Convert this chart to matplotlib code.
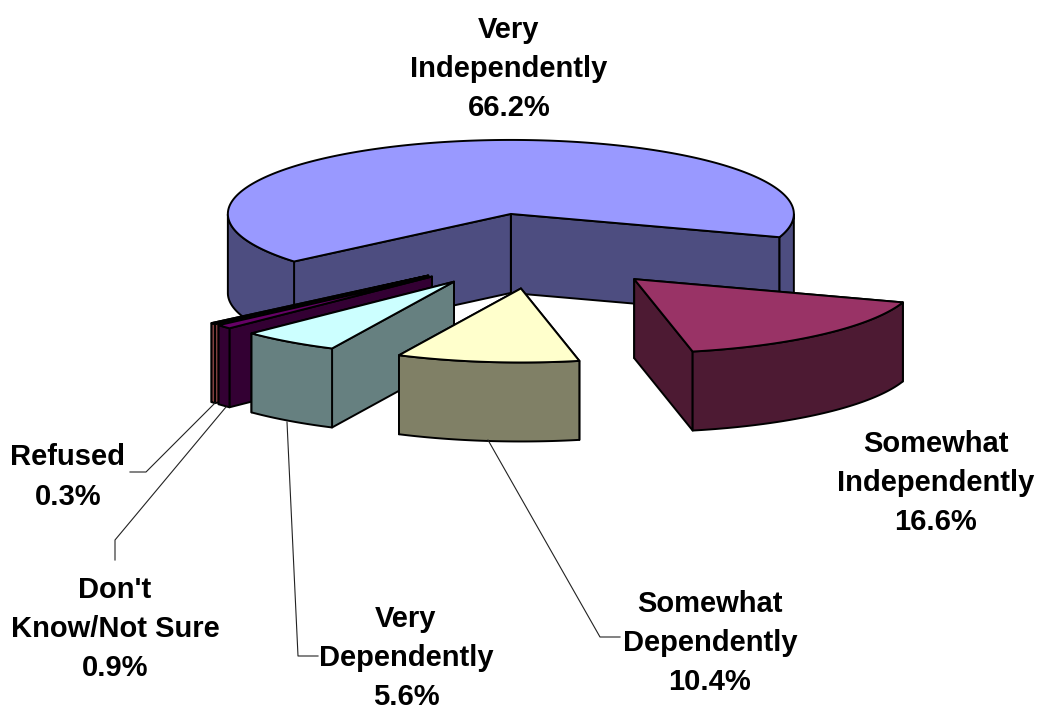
import matplotlib.pyplot as plt
import numpy as np
from matplotlib.colors import to_rgb
from matplotlib.patches import Polygon

labels = ["Very\nIndependently\n66.2%", "Somewhat\nIndependently\n16.6%",
          "Somewhat\nDependently\n10.4%", "Very\nDependently\n5.6%",
          "Don't\nKnow/Not Sure\n0.9%", "Refused\n0.3%"]
values = [66.2, 16.6, 10.4, 5.6, 0.9, 0.3]
colors = ["#9999FF", "#993366", "#FFFFCC", "#CCFFFF", "#660066", "#FF8080"]
label_pos = [(509, 69), (936, 483), (710, 643), (406, 658), (115, 629), (68, 477)]
leaders = [None, None,
           [(488, 440), (600, 637), (620, 637)],
           [(287, 422), (298, 656), (318, 656)],
           [(226, 407), (115, 540), (115, 560)],
           [(215, 403), (146, 472), (130, 472)]]

# pie geometry, in pixels of the picture
CX, CY = 538, 251
RX, RY = 283, 74
DEPTH = 79
EXPLODE = 0.51
START = 220
LW = 1.4


def face(ax, pts, color):
    ax.add_patch(Polygon(pts, closed=True, facecolor=color, edgecolor="black",
                         linewidth=LW, joinstyle="round"))


def draw_slice(ax, a1, a2, color):
    # a1 > a2, the pie runs clockwise
    mid = np.radians((a1 + a2) / 2)
    ax0 = CX + EXPLODE * RX * np.cos(mid)
    ay0 = CY - EXPLODE * RY * np.sin(mid)
    t = np.radians(np.linspace(a1, a2, max(int(a1 - a2) * 2, 6)))
    xs = ax0 + RX * np.cos(t)
    ys = ay0 - RY * np.sin(t)
    side = tuple(c * 0.5 for c in to_rgb(color))

    # cut faces, the one further back first
    for i in sorted([-1, 0], key=lambda k: ys[k]):
        face(ax, [(ax0, ay0), (xs[i], ys[i]), (xs[i], ys[i] + DEPTH), (ax0, ay0 + DEPTH)], side)

    # outer wall, only the parts turned to the viewer
    front = np.sin(t) <= 0
    idx = np.where(front)[0]
    if len(idx):
        for run in np.split(idx, np.where(np.diff(idx) > 1)[0] + 1):
            upper = list(zip(xs[run], ys[run]))
            lower = list(zip(xs[run], ys[run] + DEPTH))
            face(ax, upper + lower[::-1], side)

    face(ax, [(ax0, ay0)] + list(zip(xs, ys)), color)


fig = plt.figure(figsize=(10.39, 7.12), dpi=100)
ax = fig.add_axes([0, 0, 1, 1])
ax.set_xlim(0, 1039)
ax.set_ylim(712, 0)
ax.axis("off")

sweep = np.array(values) / sum(values) * 360
ends = START - np.cumsum(sweep)
starts = ends + sweep

# back to front
for i in [0, 1, 5, 4, 3, 2]:
    draw_slice(ax, starts[i], ends[i], colors[i])

for lead in leaders:
    if lead:
        ax.plot(*zip(*lead), color="#222222", linewidth=0.8)

for text, (x, y) in zip(labels, label_pos):
    ax.text(x, y, text, ha="center", va="center", family="Liberation Sans",
            fontweight="bold", fontsize=21, linespacing=1.52)

fig.savefig("out.png", dpi=100)
